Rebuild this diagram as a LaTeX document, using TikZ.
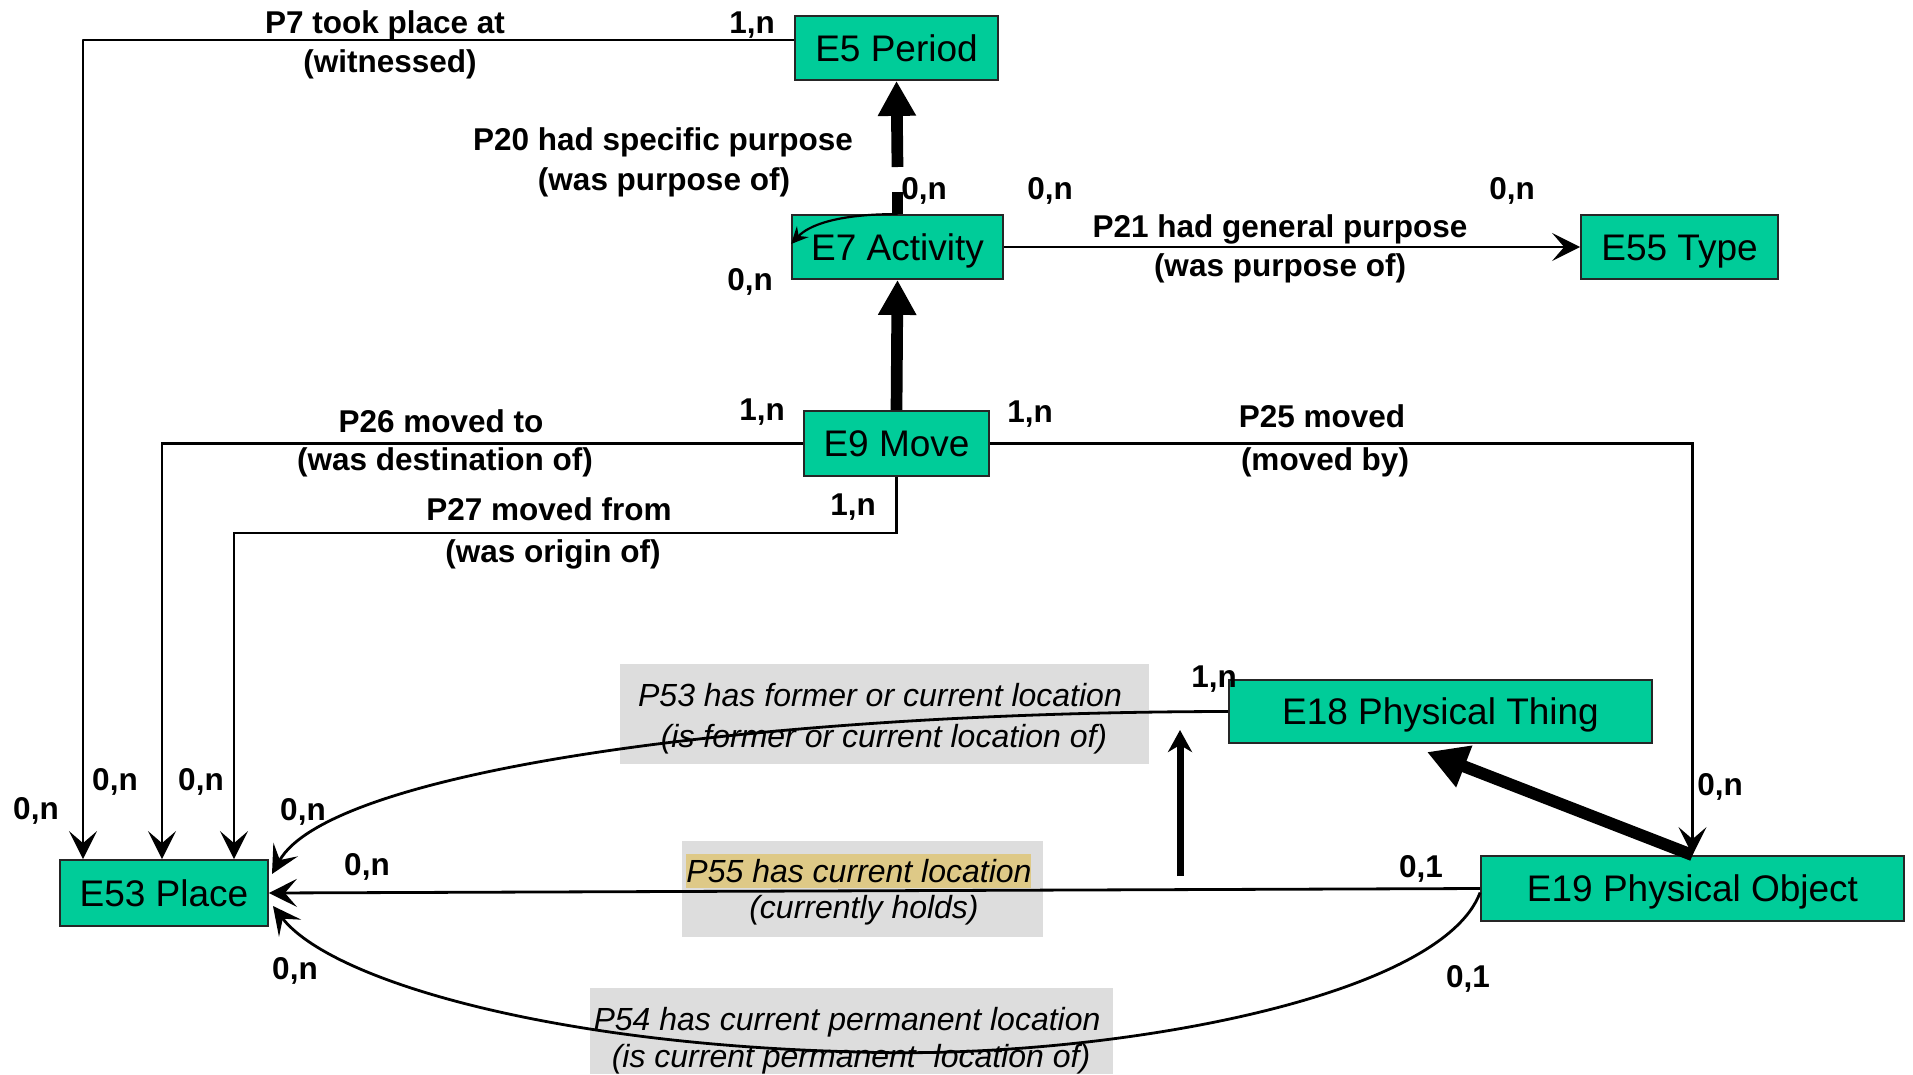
\documentclass[tikz,border=0pt]{standalone}
\usepackage{fontspec}
\setmainfont{Liberation Sans}
\usetikzlibrary{arrows.meta,calc}
\definecolor{boxgreen}{RGB}{0,204,153}
\definecolor{lblgrey}{RGB}{221,221,221}
\definecolor{hilite}{RGB}{222,201,135}
\tikzset{
  ent/.style={draw=black!85, line width=1.8pt, fill=boxgreen, inner sep=0pt,
    font=\fontsize{37}{44}\selectfont, text height=26.5pt, text depth=0pt, minimum height=64pt},
  lbl/.style={inner sep=0pt, anchor=base, font=\fontsize{31.5}{38}\selectfont\bfseries},
  ilbl/.style={inner sep=0pt, anchor=base, font=\fontsize{32}{38}\selectfont\itshape},
  conn/.style={line width=2.8pt},
  tip/.style={-{Stealth[length=28pt,width=28pt,inset=12pt]}},
  isa/.style={line width=11.7pt, -{Triangle[length=35pt,width=36pt]}},
}
\begin{document}
\begin{tikzpicture}[x=1pt,y=-1pt]
\useasboundingbox (0,0) rectangle (1913,1074);

% label backgrounds
\fill[lblgrey] (620,664) rectangle (1149,764);
\fill[lblgrey] (682,841) rectangle (1043,937);
\fill[hilite] (686,854) rectangle (1031,888);
\fill[lblgrey] (590,988) rectangle (1113,1074);

% italic labels
\node[ilbl] (p53a) at (880,706) {P53 has former or current location};
\node[ilbl] (p53b) at (884,747) {(is former or current location of)};
\node[ilbl] (p55a) at (859,882) {P55 has current location};
\node[ilbl] (p55b) at (864,918) {(currently holds)};
\node[ilbl] (p54a) at (847,1030) {P54 has current permanent location};
\node[ilbl] (p54b) at (851,1067) {(is current permanent\ \ location of)};

% entities
\node[ent, minimum width=203pt] (e5) at (896.5,48) {E5 Period};
\node[ent, minimum width=211pt] (e7) at (897.5,247) {E7 Activity};
\node[ent, minimum width=197pt] (e55) at (1679.5,247) {E55 Type};
\node[ent, minimum width=185pt, minimum height=65pt] (e9) at (896.5,443.5) {E9 Move};
\node[ent, minimum width=423pt, minimum height=63pt] (e18) at (1440.5,711.5) {E18 Physical Thing};
\node[ent, minimum width=423pt, minimum height=65pt] (e19) at (1692.5,888.5) {E19 Physical Object};
\node[ent, minimum width=208pt, minimum height=66pt] (e53) at (164,893) {E53 Place};

% helper coordinates
\coordinate (c7) at (83,40);
\coordinate (c26) at (162,443.5);
\coordinate (c27) at (234,533);
\coordinate (c25) at (1692.5,443.5);
\coordinate (c20) at (897.5,167);
\coordinate (c20b) at (897.5,192);
\coordinate (c1827) at (1427,752);
\coordinate (va0) at (1180,876);
\coordinate (va1) at (1180,730);
\coordinate (t53) at (272,874);
\coordinate (t54) at (273,906);

% orthogonal connectors
\draw[conn, tip, line join=round] (e5.west |- c7) -- (c7) -- (c7 |- e53.north);
\draw[conn, tip] (e9.west) -- (c26 |- e9.west) -- (c26 |- e53.north);
\draw[conn, tip] (e9.south) -- (e9.south |- c27) -- (c27) -- (c27 |- e53.north);
\draw[conn, tip] (e9.east) -- (c25) -- (c25 |- e19.north);
\draw[conn, tip] (e7.east) -- (e55.west);

% P20 curved arrow and block
\draw[line width=2.2pt, -{Stealth[length=17pt,width=16pt,inset=6pt]}]
  (e7.north) .. controls (835,214) and (808,226) .. ([yshift=3pt]e7.west);
\draw[line width=11pt] (c20b) -- (e7.north);

% isa arrows
\draw[isa] (c20) -- (e5.south);
\draw[isa] (e9.north) -- (e7.south);
\draw[line width=12pt, -{Triangle[length=40pt,width=42pt]}] (e19.north) -- (c1827);
\draw[line width=7pt, -{Stealth[length=22pt,width=24pt,inset=7pt]}] (va0) -- (va1);

% location curves
\draw[conn, tip] (e18.west) .. controls (760,712) and (330,770) .. (t53);
\draw[conn, tip] (e19.west) -- (e53.east);
\draw[conn, tip] ([yshift=-4pt]e19.west) .. controls (1440,1000) and (1100,1060) .. (860,1052)
  .. controls (550,1045) and (330,980) .. (t54);

% bold labels
\node[lbl] (l1) at (385,33) {P7 took place at};
\node[lbl] (l2) at (390,72) {(witnessed)};
\node[lbl] (l3) at (752,33) {1,n};
\node[lbl] (l4) at (36,819) {0,n};
\node[lbl] (l5) at (663,150) {P20 had specific purpose};
\node[lbl] (l6) at (664,190) {(was purpose of)};
\node[lbl] (l7) at (924,199) {0,n};
\node[lbl] (l8) at (750,290) {0,n};
\node[lbl] (l9) at (1280,237) {P21 had general purpose};
\node[lbl] (l10) at (1280,276) {(was purpose of)};
\node[lbl] (l11) at (1050,199) {0,n};
\node[lbl] (l12) at (1512,199) {0,n};
\node[lbl] (l13) at (441,432) {P26 moved to};
\node[lbl] (l14) at (445,470) {(was destination of)};
\node[lbl] (l15) at (762,420) {1,n};
\node[lbl] (l16) at (115,790) {0,n};
\node[lbl] (l17) at (549,520) {P27 moved from};
\node[lbl] (l18) at (553,562) {(was origin of)};
\node[lbl] (l19) at (853,515) {1,n};
\node[lbl] (l20) at (201,790) {0,n};
\node[lbl] (l21) at (1322,427) {P25 moved};
\node[lbl] (l22) at (1325,470) {(moved by)};
\node[lbl] (l23) at (1030,422) {1,n};
\node[lbl] (l24) at (1720,795) {0,n};
\node[lbl] (l25) at (1214,687) {1,n};
\node[lbl] (l26) at (303,820) {0,n};
\node[lbl] (l27) at (367,875) {0,n};
\node[lbl] (l28) at (1421,877) {0,1};
\node[lbl] (l29) at (1468,987) {0,1};
\node[lbl] (l30) at (295,979) {0,n};
\end{tikzpicture}
\end{document}
